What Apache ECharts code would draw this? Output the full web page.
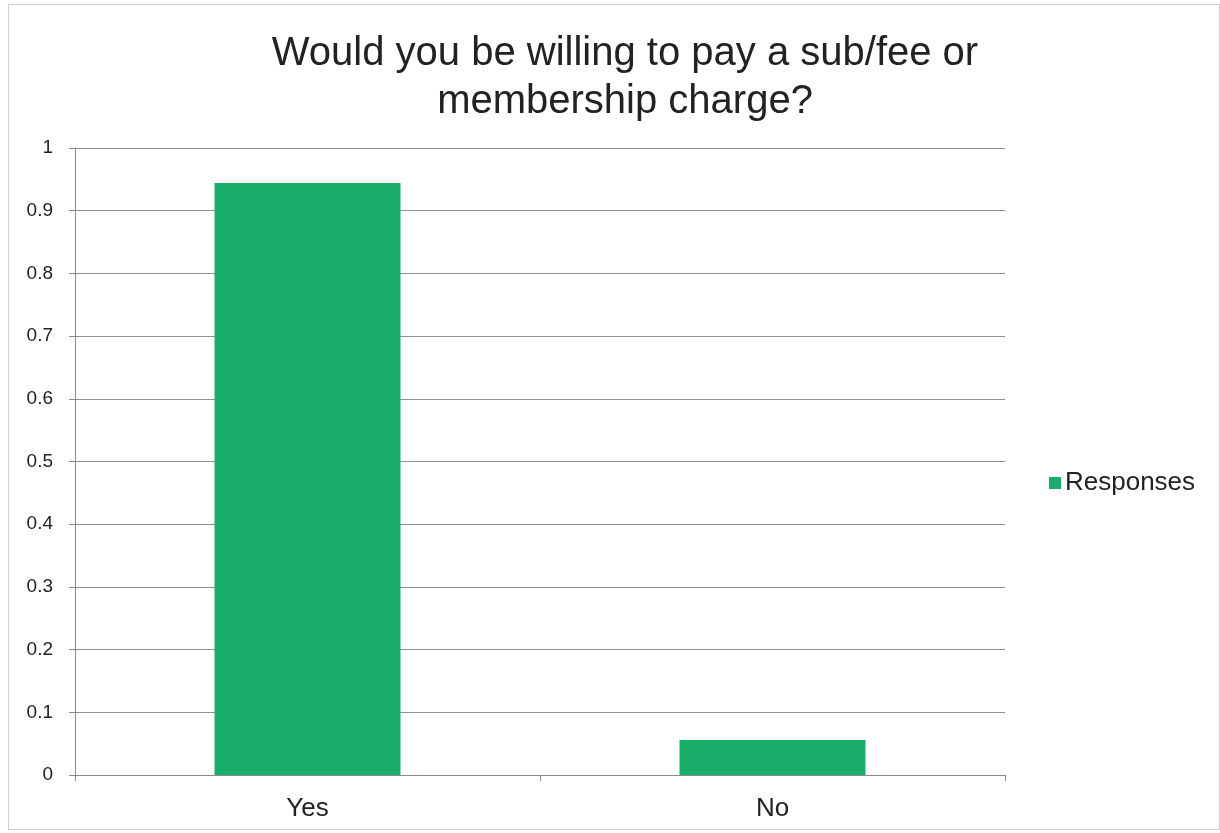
<!DOCTYPE html>
<html>
<head>
<meta charset="utf-8">
<script src="https://cdn.jsdelivr.net/npm/echarts@6/dist/echarts.min.js"></script>
<style>
html,body{margin:0;padding:0;background:#fff;}
#wrap{position:absolute;left:8px;top:4px;width:1212px;height:826px;border:1px solid #cfcfcf;box-sizing:border-box;}
#chart{position:absolute;left:0;top:0;width:1220px;height:833px;}
</style>
</head>
<body>
<div id="wrap"></div>
<div id="chart"></div>
<script>
const titleText = "Would you be willing to pay a sub/fee or\nmembership charge?";
const categories = ["Yes", "No"];
const seriesName = "Responses";
const responses = [0.944, 0.056];
const yTicks = { min: 0, max: 1, interval: 0.1 };

const chart = echarts.init(document.getElementById('chart'));
chart.setOption({
  animation: false,
  backgroundColor: 'transparent',
  title: {
    text: titleText,
    left: 620, top: 25, textAlign: 'center',
    textStyle: { fontFamily: 'Liberation Sans, Arial', fontSize: 40, fontWeight: 'normal', color: '#222', lineHeight: 48 }
  },
  legend: {
    data: [seriesName],
    orient: 'vertical',
    left: 1044, top: 465,
    itemWidth: 12, itemHeight: 12, itemGap: 6,
    icon: 'rect',
    textStyle: { fontFamily: 'Liberation Sans, Arial', fontSize: 26, color: '#222', padding: [0,0,0,-1] }
  },
  grid: { left: 75, right: 215, top: 148, bottom: 58, containLabel: false },
  xAxis: {
    type: 'category',
    data: categories,
    boundaryGap: true,
    axisLine: { lineStyle: { color: '#8a8a8a', width: 1 } },
    axisTick: { show: true, alignWithLabel: false, length: 6, lineStyle: { color: '#8a8a8a' } },
    axisLabel: { fontFamily: 'Liberation Sans, Arial', fontSize: 26, color: '#222', margin: 21 }
  },
  yAxis: {
    type: 'value',
    min: yTicks.min, max: yTicks.max, interval: yTicks.interval,
    axisLine: { show: true, lineStyle: { color: '#8a8a8a', width: 1 } },
    axisTick: { show: true, length: 6, lineStyle: { color: '#8a8a8a' } },
    axisLabel: { fontFamily: 'Liberation Sans, Arial', fontSize: 19, color: '#222', margin: 22,
      formatter: v => String(Math.round(v * 10) / 10) },
    splitLine: { show: true, lineStyle: { color: '#8f8f8f', width: 1 } }
  },
  series: [{
    name: seriesName,
    type: 'bar',
    data: responses,
    barWidth: '40%',
    itemStyle: { color: '#18AD69' }
  }]
});
</script>
</body>
</html>
